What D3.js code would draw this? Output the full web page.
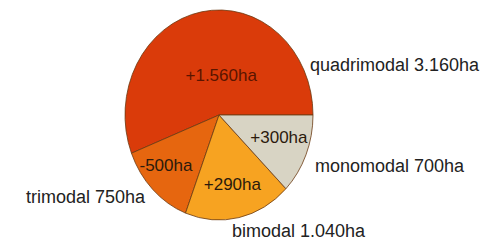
<!DOCTYPE html>
<html>
<head>
<meta charset="utf-8">
<script src="https://cdn.jsdelivr.net/npm/d3@7"></script>
<style>
    body { margin: 0; background: #fff; }
    text { font-family: "Liberation Sans", Arial, sans-serif; }
</style>
</head>
<body>
<div id="chart"></div>
<script>
// data
var categories = ['quadrimodal', 'trimodal', 'bimodal', 'monomodal'];
var areas = [3160, 750, 1040, 700];
var areaLabels = ['3.160ha', '750ha', '1.040ha', '700ha'];
var changes = ['+1.560ha', '-500ha', '+290ha', '+300ha'];
var colors = ['#da3b0a', '#e6660f', '#f7a321', '#d8d4c4'];

// layout
var width = 491, height = 241;
var cx = 219, cy = 115, r = 94, ry = 105;
// outer label anchors (x, y, anchor) and inner label pixel shifts from the centroid
var outerPos = [[310, 65, 'start'], [145, 197, 'end'], [232, 231, 'start'], [315, 166, 'start']];
var innerShift = [[13, 24], [-12, 4], [1, 5], [6, -3]];

var svg = d3.select('#chart')
    .append('svg')
    .attr('width', width)
    .attr('height', height);

// counter-clockwise from 3 o'clock, like R's pie()
var pie = d3.pie()
    .sort(null)
    .startAngle(Math.PI / 2)
    .endAngle(Math.PI / 2 - 2 * Math.PI);

var arcs = pie(areas);

var arc = d3.arc().innerRadius(0).outerRadius(r);
var labelArc = d3.arc().innerRadius(r * 0.62).outerRadius(r * 0.62);
var sy = ry / r;

var g = svg.append('g')
    .attr('transform', 'translate(' + cx + ',' + cy + ') scale(1,' + sy + ')');

g.selectAll('path')
    .data(arcs)
    .enter().append('path')
    .attr('d', arc)
    .attr('fill', function(d, i) { return colors[i]; })
    .attr('stroke', '#6b3a12')
    .attr('stroke-width', 0.8)
    .attr('vector-effect', 'non-scaling-stroke');

// change labels inside slices
svg.append('g')
    .selectAll('text')
    .data(arcs)
    .enter().append('text')
    .attr('x', function(d, i) { return cx + labelArc.centroid(d)[0] + innerShift[i][0]; })
    .attr('y', function(d, i) { return cy + labelArc.centroid(d)[1] * sy + innerShift[i][1]; })
    .attr('text-anchor', 'middle')
    .attr('dy', '0.35em')
    .attr('font-size', 17)
    .attr('fill', function(d, i) { return i === 0 ? '#5a1500' : '#2b1a0c'; })
    .text(function(d, i) { return changes[i]; });

// category labels outside
svg.append('g')
    .selectAll('text')
    .data(categories)
    .enter().append('text')
    .attr('x', function(d, i) { return outerPos[i][0]; })
    .attr('y', function(d, i) { return outerPos[i][1]; })
    .attr('text-anchor', function(d, i) { return outerPos[i][2]; })
    .attr('dy', '0.35em')
    .attr('font-size', 18)
    .attr('fill', '#222')
    .text(function(d, i) { return d + ' ' + areaLabels[i]; });
</script>
</body>
</html>
